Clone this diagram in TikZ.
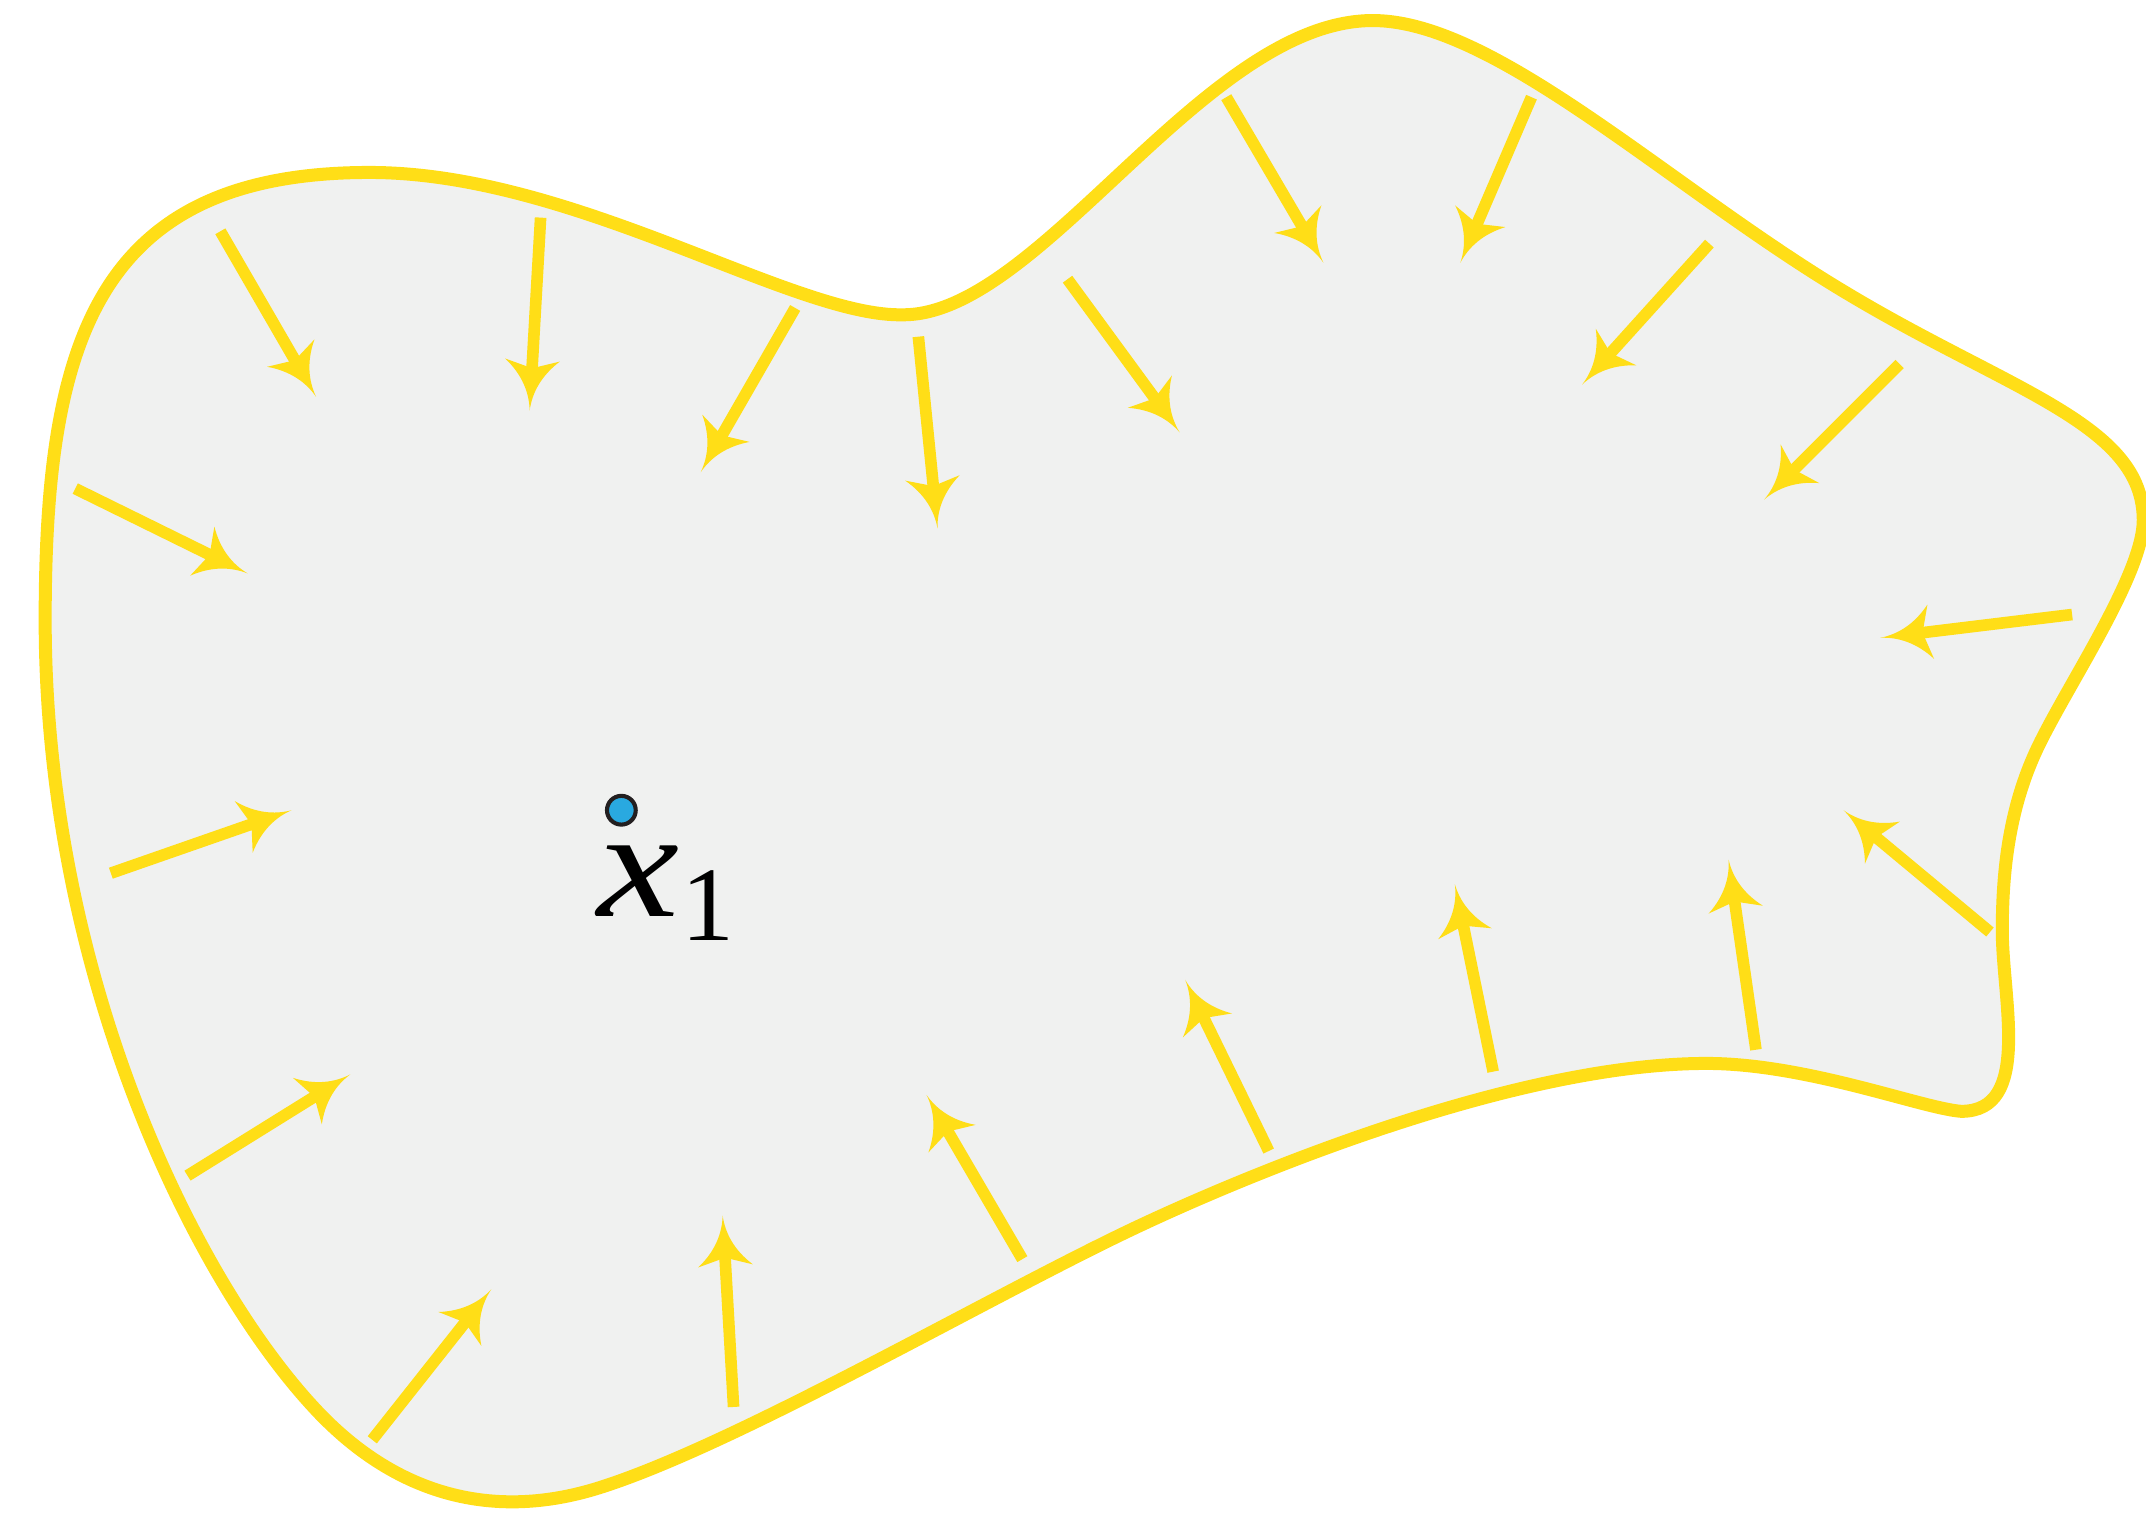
\documentclass[tikz,border=0pt]{standalone}
\usepackage{fontspec}
\newfontfamily\lserif{Liberation Serif}
\usetikzlibrary{calc}
\definecolor{ayellow}{RGB}{255,222,23}
\definecolor{agray}{RGB}{240,241,240}
\definecolor{ablue}{RGB}{41,169,224}
\definecolor{adark}{RGB}{35,31,32}
\tikzset{
  blob/.style={draw=ayellow, fill=agray, line width=0.95mm, line join=round},
  shaft/.style={draw=ayellow, line width=0.85mm, shorten >=2mm},
  ahead/.pic={\fill[ayellow] (0,0) .. controls (-13,1) and (-26,7) .. (-37,20) -- (-31,0) -- (-37,-20) .. controls (-26,-7) and (-13,-1) .. (0,0) -- cycle;},
  dot/.style={circle, fill=ablue, draw=adark, line width=0.3mm, minimum size=2.1mm, inner sep=0pt},
  lbl/.style={anchor=base west, inner sep=0pt}
}
\newcommand\fieldarrow[2]{%
  \draw[shaft] (#1) -- (#2);
  \path (#1) -- (#2) pic[pos=1, sloped, allow upside down]{ahead};}
\begin{document}
\begin{tikzpicture}[x=0.1mm, y=-0.1mm]
\useasboundingbox (0,0) rectangle (1568,1107);
\draw[blob] (33,453)
  .. controls (33,250) and (70,126) .. (270,126)
  .. controls (420,126) and (580,232) .. (660,230)
  .. controls (760,230) and (880,15) .. (1003,15)
  .. controls (1093,15) and (1220,137) .. (1349,214)
  .. controls (1469,286) and (1566,310) .. (1566,380)
  .. controls (1566,420) and (1509,503) .. (1488,548)
  .. controls (1467,593) and (1463,640) .. (1463,680)
  .. controls (1463,730) and (1485,812) .. (1433,812)
  .. controls (1405,810) and (1320,777) .. (1247,777)
  .. controls (1100,777) and (892,866) .. (811,906)
  .. controls (703,959) and (533,1057) .. (438,1087)
  .. controls (362,1111) and (289,1094) .. (228,1027)
  .. controls (140,931) and (33,710) .. (33,453) -- cycle;
% arrow coordinates
\coordinate (a1s) at (161,169);  \coordinate (a1t) at (231,290);
\coordinate (a2s) at (395,159);  \coordinate (a2t) at (387,300);
\coordinate (a3s) at (581,225);  \coordinate (a3t) at (512,345);
\coordinate (a4s) at (671,246);  \coordinate (a4t) at (685,386);
\coordinate (a5s) at (780,204);  \coordinate (a5t) at (862,316);
\coordinate (a6s) at (896,71);   \coordinate (a6t) at (967,192);
\coordinate (a7s) at (1119,71);  \coordinate (a7t) at (1067,192);
\coordinate (a8s) at (1249,178); \coordinate (a8t) at (1156,281);
\coordinate (a9s) at (1388,266); \coordinate (a9t) at (1289,365);
\coordinate (a10s) at (55,357);  \coordinate (a10t) at (181,419);
\coordinate (a11s) at (1514,449); \coordinate (a11t) at (1374,466);
\coordinate (a12s) at (81,638);  \coordinate (a12t) at (213,592);
\coordinate (a13s) at (1454,681); \coordinate (a13t) at (1347,592);
\coordinate (a14s) at (137,859); \coordinate (a14t) at (256,785);
\coordinate (a15s) at (272,1052); \coordinate (a15t) at (359,942);
\coordinate (a16s) at (536,1028); \coordinate (a16t) at (528,888);
\coordinate (a17s) at (747,920); \coordinate (a17t) at (677,800);
\coordinate (a18s) at (927,841); \coordinate (a18t) at (866,716);
\coordinate (a19s) at (1091,783); \coordinate (a19t) at (1063,646);
\coordinate (a20s) at (1283,767); \coordinate (a20t) at (1263,628);
\foreach \i in {1,...,20}{\fieldarrow{a\i s}{a\i t}}
\node[dot] (x1) at (454,592) {};
\node[lbl] (x1label) at (436,670) {\lserif\scalebox{1.2}[1]{\fontsize{32}{38}\selectfont\itshape x}\kern0.1mm\raisebox{-1.7mm}{\fontsize{22}{26}\selectfont 1}};
\end{tikzpicture}
\end{document}
